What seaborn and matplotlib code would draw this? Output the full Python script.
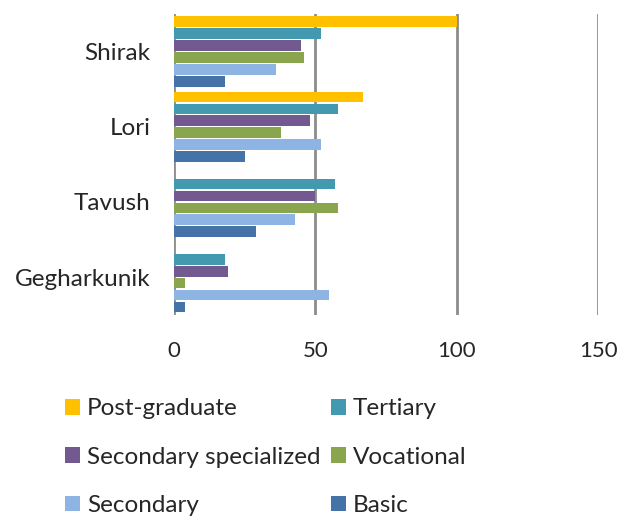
import pandas as pd
import numpy as np
import matplotlib.pyplot as plt
import seaborn as sns

# Data
regions = ["Shirak", "Lori", "Tavush", "Gegharkunik"]
levels = [
    "Post-graduate",
    "Tertiary",
    "Secondary specialized",
    "Vocational",
    "Secondary",
    "Basic",
]
post_graduate = [100, 67, 0, 0]
tertiary = [52, 58, 57, 18]
secondary_specialized = [45, 48, 50, 19]
vocational = [46, 38, 58, 4]
secondary = [36, 52, 43, 55]
basic = [18, 25, 29, 4]

colors = ["#FFC000", "#4399B0", "#725990", "#89A54E", "#8EB4E3", "#4572A7"]

# Long format table for seaborn
series = [post_graduate, tertiary, secondary_specialized, vocational, secondary, basic]
rows = []
for level, vals in zip(levels, series):
    for region, v in zip(regions, vals):
        rows.append({"Region": region, "Level": level, "Value": v})
df = pd.DataFrame(rows)

sns.set_style("white")
plt.rcParams["font.family"] = ["Lato", "DejaVu Sans"]

fig = plt.figure(figsize=(6.21, 5.16), dpi=100)
ax = fig.add_axes([0.280, 0.390, 0.683, 0.583])

sns.barplot(
    data=df,
    y="Region",
    x="Value",
    hue="Level",
    order=regions,
    hue_order=levels,
    palette=colors,
    orient="h",
    width=0.95,
    gap=0.1,
    saturation=1,
    linewidth=0,
    legend=True,
    ax=ax,
)

ax.set_xlim(0, 150)
ax.set_ylim(3.5, -0.5)
ax.set_xticks([0, 50, 100, 150])
ax.xaxis.grid(True, color="#8C8C8C", linewidth=2)
ax.yaxis.grid(False)
ax.set_axisbelow(True)
for s in ax.spines.values():
    s.set_visible(False)
ax.tick_params(axis="x", length=0, pad=19, labelsize=16)
ax.tick_params(axis="y", length=0, pad=17, labelsize=17.5)
ax.set_xlabel("")
ax.set_ylabel("")

# legend is filled row by row in the reference
handles, labels = ax.get_legend_handles_labels()
ax.get_legend().remove()
order = [0, 2, 4, 1, 3, 5]
fig.legend(
    [handles[i] for i in order],
    [labels[i] for i in order],
    loc="upper left",
    bbox_to_anchor=(0.105, 0.228),
    ncol=2,
    frameon=False,
    fontsize=17.5,
    handlelength=0.6,
    handleheight=0.6,
    handletextpad=0.3,
    columnspacing=0.43,
    labelspacing=1.12,
    borderpad=0,
    borderaxespad=0,
)

fig.savefig("out.png", dpi=100)
